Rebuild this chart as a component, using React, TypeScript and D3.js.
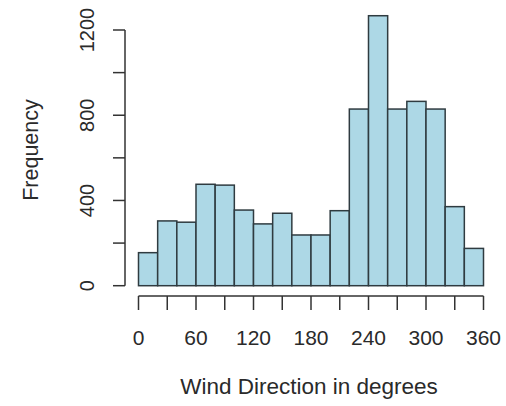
import React from "react";
import * as d3 from "d3";

const binEdges = [0, 20, 40, 60, 80, 100, 120, 140, 160, 180, 200, 220, 240, 260, 280, 300, 320, 340, 360];
const counts = [155, 304, 298, 476, 472, 355, 290, 340, 238, 238, 352, 829, 1267, 829, 865, 829, 371, 175];
const xTicks = [0, 30, 60, 90, 120, 150, 180, 210, 240, 270, 300, 330, 360];
const xLabels = [0, 60, 120, 180, 240, 300, 360];
const yTicks = [0, 200, 400, 600, 800, 1000, 1200];
const yLabels = [0, 400, 800, 1200];

const W = 506;
const H = 406;
const FONT = "'Liberation Sans', Arial, sans-serif";

export default function App() {
  const x = d3.scaleLinear().domain([0, 360]).range([138.5, 483.5]);
  const y = d3.scaleLinear().domain([0, 1200]).range([285.7, 30]);
  const axisColor = "#333";
  const textColor = "#2a2a2a";
  const xAxisY = 296;
  const yAxisX = 125;

  return (
    <svg width={W} height={H} style={{ position: "absolute", left: 0, top: 0, background: "#fff" }}>
      {counts.map((c, i) => (
        <rect
          key={i}
          x={x(binEdges[i])}
          y={y(c)}
          width={x(binEdges[i + 1]) - x(binEdges[i])}
          height={y(0) - y(c)}
          fill="#add8e6"
          stroke="#2f3b40"
          strokeWidth={1.5}
        />
      ))}
      {/* x axis */}
      <line x1={x(0)} x2={x(360)} y1={xAxisY} y2={xAxisY} stroke={axisColor} strokeWidth={1.5} />
      {xTicks.map((t) => (
        <line key={t} x1={x(t)} x2={x(t)} y1={xAxisY} y2={xAxisY + 14} stroke={axisColor} strokeWidth={1.5} />
      ))}
      {xLabels.map((t) => (
        <text key={t} x={x(t)} y={345} textAnchor="middle" fontFamily={FONT} fontSize={21} fill={textColor}>
          {t}
        </text>
      ))}
      {/* y axis */}
      <line x1={yAxisX} x2={yAxisX} y1={y(0)} y2={y(1200)} stroke={axisColor} strokeWidth={1.5} />
      {yTicks.map((t) => (
        <line key={t} x1={yAxisX - 12} x2={yAxisX} y1={y(t)} y2={y(t)} stroke={axisColor} strokeWidth={1.5} />
      ))}
      {yLabels.map((t) => (
        <text
          key={t}
          transform={`translate(94, ${y(t)}) rotate(-90)`}
          textAnchor="middle"
          fontFamily={FONT}
          fontSize={20}
          fill={textColor}
        >
          {t}
        </text>
      ))}
      <text
        transform={`translate(37.5, 150) rotate(-90)`}
        textAnchor="middle"
        fontFamily={FONT}
        fontSize={21.5}
        fill={textColor}
      >
        Frequency
      </text>
      <text x={309} y={394} textAnchor="middle" fontFamily={FONT} fontSize={22.5} fill={textColor}>
        Wind Direction in degrees
      </text>
    </svg>
  );
}
